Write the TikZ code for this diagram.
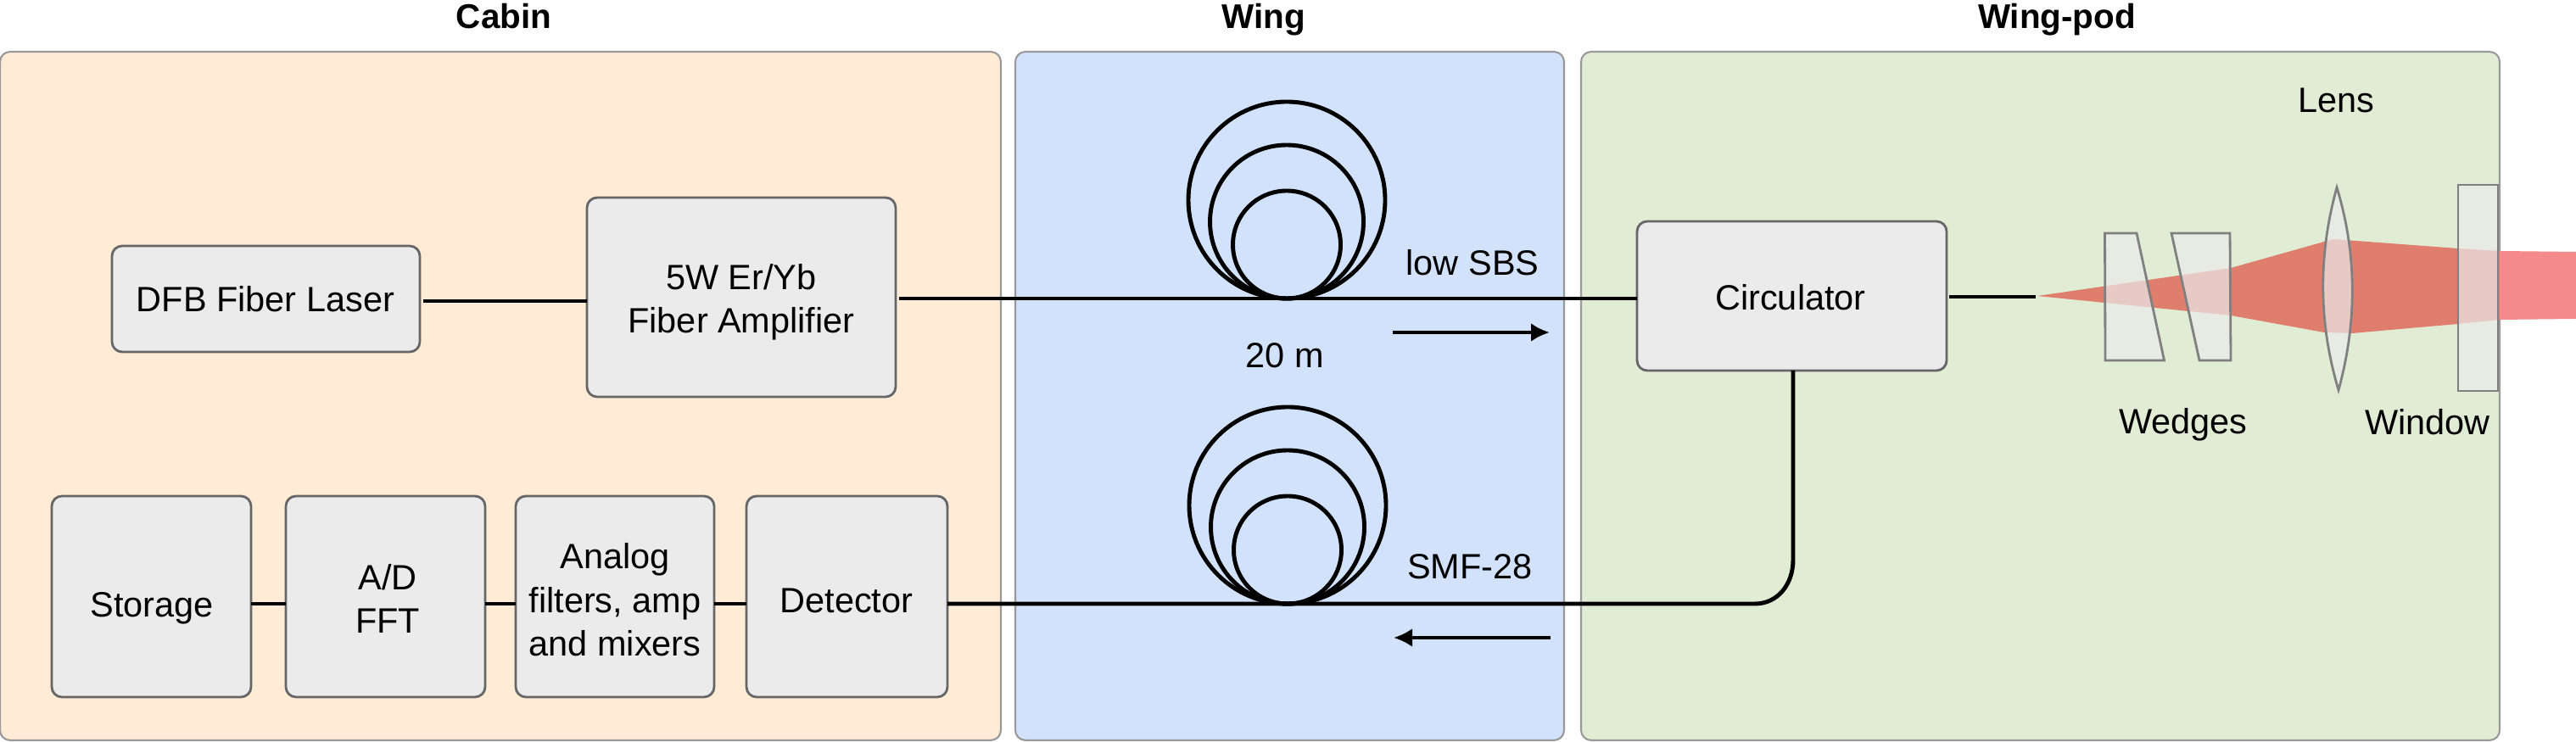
\documentclass[tikz,border=0pt]{standalone}
\usepackage{fontspec}
\setmainfont{Liberation Sans}
\usepackage{tikz}
\usetikzlibrary{arrows.meta}
\definecolor{cabinfill}{HTML}{FFEBD6}
\definecolor{wingfill}{HTML}{D2E2FB}
\definecolor{podfill}{HTML}{E1ECD5}
\definecolor{boxfill}{HTML}{EBEBEB}
\definecolor{beamin}{HTML}{E07E6E}
\definecolor{beamout}{HTML}{F48A8A}
\tikzset{
    panel/.style={draw=black!40,line width=0.6pt,rounded corners=0.12cm,inner sep=0,outer sep=0},
    unit/.style={draw=black!60,line width=0.8pt,fill=boxfill,rounded corners=0.12cm,inner sep=0,outer sep=0},
    fiber/.style={line width=1.4pt},
    coil/.style={circle,draw,line width=1.4pt,inner sep=0,outer sep=0,anchor=south},
    optic/.style={draw=black!50,line width=0.8pt,fill=white!92!black,fill opacity=0.7},
    txt/.style={anchor=base,inner sep=0,align=center},
    title/.style={txt,font=\fontsize{11.5}{14.7}\selectfont\bfseries},
    flow/.style={-{Latex[length=0.22cm,width=0.22cm]},line width=1.4pt}
}
\begin{document}
\begin{tikzpicture}[scale=1,font=\fontsize{11.8}{14.7}\selectfont]
    \useasboundingbox (0,0) rectangle (30.37,8.75);

    % panels
    \node[panel,fill=cabinfill,minimum width=11.80cm,minimum height=8.12cm] (cabin) at (5.90,4.08) {};
    \node[panel,fill=wingfill,minimum width=6.47cm,minimum height=8.12cm] (wing) at (15.205,4.08) {};
    \node[panel,fill=podfill,minimum width=10.83cm,minimum height=8.12cm] (pod) at (24.055,4.08) {};
    \node[title] (cabintitle) at (5.94,8.41) {Cabin};
    \node[title] (wingtitle) at (14.90,8.41) {Wing};
    \node[title] (podtitle) at (24.25,8.41) {Wing-pod};

    % boxes
    \node[unit,minimum width=3.63cm,minimum height=1.25cm] (dfb) at (3.135,5.225) {};
    \node[unit,minimum width=3.64cm,minimum height=2.35cm] (amp) at (8.74,5.245) {};
    \node[unit,minimum width=3.65cm,minimum height=1.76cm] (circ) at (21.125,5.26) {};
    \node[unit,minimum width=2.35cm,minimum height=2.37cm] (store) at (1.785,1.715) {};
    \node[unit,minimum width=2.35cm,minimum height=2.37cm] (adc) at (4.545,1.715) {};
    \node[unit,minimum width=2.34cm,minimum height=2.37cm] (filt) at (7.25,1.715) {};
    \node[unit,minimum width=2.37cm,minimum height=2.37cm] (det) at (9.985,1.715) {};
    \node[txt] (dfbtxt) at (3.13,5.07) {DFB Fiber Laser};
    \node[txt] (amptxt) at (8.74,4.82) {5W Er/Yb\\Fiber Amplifier};
    \node[txt] (circtxt) at (21.11,5.09) {Circulator};
    \node[txt] (storetxt) at (1.79,1.47) {Storage};
    \node[txt] (adctxt) at (4.57,1.28) {A/D\\FFT};
    \node[txt] (filttxt) at (7.25,1.01) {Analog\\filters, amp\\and mixers};
    \node[txt] (dettxt) at (9.98,1.52) {Detector};

    % fiber coils
    \coordinate (upcoil) at (15.17,5.23);
    \coordinate (lowcoil) at (15.18,1.63);
    \foreach \size/\nm in {2.32/o,1.81/m,1.27/i} {
        \node[coil,minimum size=\size cm] (up\nm) at (upcoil) {};
        \node[coil,minimum size=\size cm] (low\nm) at (lowcoil) {};
    }

    % fibers
    \coordinate (tip) at (24.00,5.25);
    \coordinate (bendin) at (20.69,1.63);
    \coordinate (bendout) at (21.14,2.15);
    \draw[fiber,shorten <=0.04cm] (dfb.east |- 0,5.20) -- (amp.west |- 0,5.20);
    \draw[fiber,shorten <=0.04cm] (amp.east |- upcoil) -- (circ.west |- upcoil);
    \draw[fiber,shorten <=0.03cm] (circ.east |- tip) -- (tip);
    \draw[fiber] (store.east |- lowcoil) -- (adc.west |- lowcoil);
    \draw[fiber] (adc.east |- lowcoil) -- (filt.west |- lowcoil);
    \draw[fiber] (filt.east |- lowcoil) -- (det.west |- lowcoil);
    \draw[fiber] (det.east |- lowcoil) -- (bendin) .. controls (20.95,1.63) and (21.14,1.85) .. (bendout) -- (circ.south -| bendout);

    % direction arrows
    \coordinate (ra) at (16.42,4.83); \coordinate (rb) at (18.27,4.83);
    \coordinate (la) at (18.28,1.23); \coordinate (lb) at (16.43,1.23);
    \draw[flow] (ra) -- (rb);
    \draw[flow] (la) -- (lb);
    \node[txt] (sbs) at (17.36,5.50) {low SBS};
    \node[txt] (len) at (15.15,4.41) {20 m};
    \node[txt] (smf) at (17.33,1.92) {SMF-28};

    % beam
    \fill[beamin] (24.02,5.26) -- (26.30,5.59) -- (27.40,5.90) -- (27.51,5.93) -- (28.98,5.82) -- (29.47,5.79)
        -- (29.47,4.98) -- (28.98,4.93) -- (27.73,4.82) -- (27.40,4.83) -- (26.30,5.03) -- cycle;
    \fill[beamout] (29.47,5.79) -- (30.37,5.78) -- (30.37,4.99) -- (29.47,4.98) -- cycle;

    % optics
    \draw[optic] (24.815,6.00) -- (25.19,6.00) -- (25.515,4.50) -- (24.82,4.50) -- cycle;
    \draw[optic] (25.60,6.00) -- (26.29,6.00) -- (26.30,4.50) -- (25.93,4.50) -- cycle;
    \draw[optic] (27.55,6.54) .. controls (27.33,5.75) and (27.33,4.95) .. (27.57,4.15)
        .. controls (27.79,4.95) and (27.79,5.75) .. (27.55,6.54) -- cycle;
    \draw[optic] (28.98,4.14) rectangle (29.45,6.57);
    \node[txt] (lens) at (27.54,7.42) {Lens};
    \node[txt] (wedges) at (25.74,3.63) {Wedges};
    \node[txt] (window) at (28.62,3.62) {Window};
\end{tikzpicture}
\end{document}
